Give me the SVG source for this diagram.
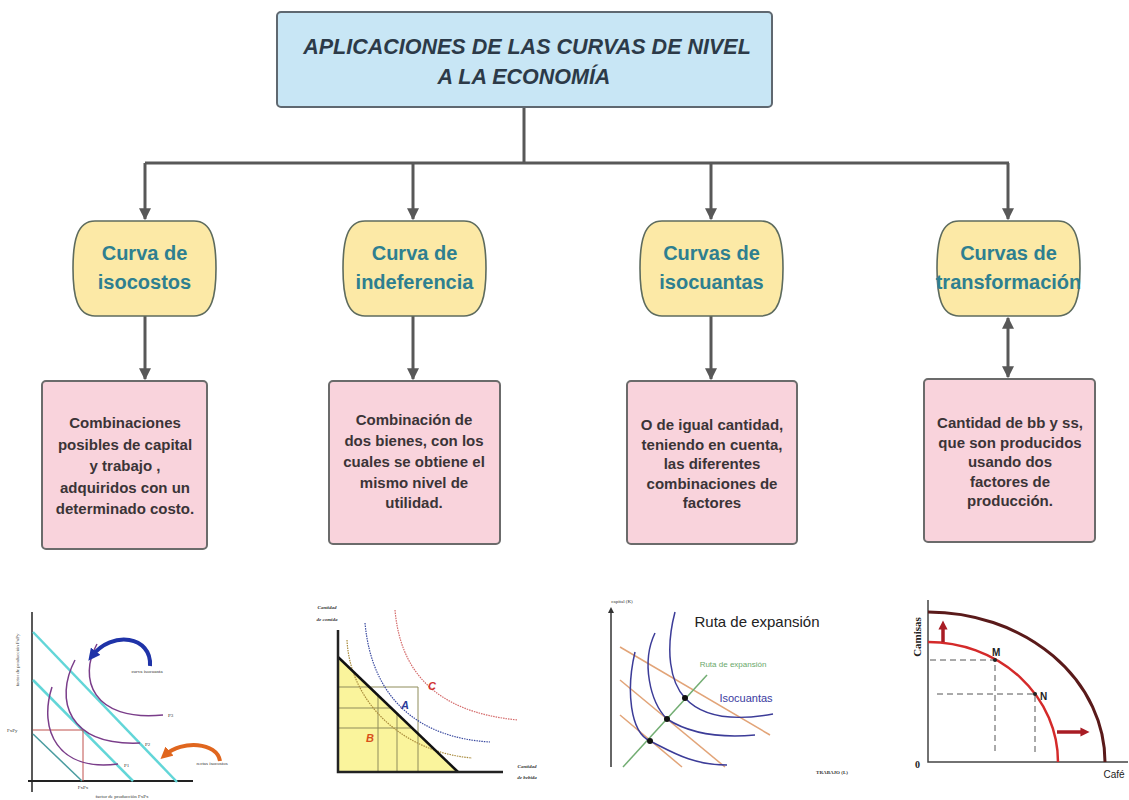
<svg xmlns="http://www.w3.org/2000/svg" width="1129" height="800" viewBox="0 0 1129 800">
<defs>
<style>
.title{font-family:"Liberation Sans",Arial,sans-serif;font-size:21.5px;font-weight:bold;font-style:italic;fill:#2c3a48;text-anchor:middle}
.ntext{font-family:"Liberation Sans",Arial,sans-serif;font-size:20px;font-weight:bold;fill:#2e7f90;text-anchor:middle}
.btext{font-family:"Liberation Sans",Arial,sans-serif;font-size:15px;font-weight:bold;fill:#3b3437;text-anchor:middle}
.conn{stroke:#585858;stroke-width:3;fill:none}
.yel{fill:#fce9a6;stroke:#5d6b5e;stroke-width:1.6}
.pink{fill:#f9d3dc;stroke:#6b6b6b;stroke-width:2}
.tiny{font-family:"Liberation Serif",serif;font-size:5px;fill:#333}
.lbl{font-family:"Liberation Sans",Arial,sans-serif}
</style>
<marker id="ah" viewBox="0 0 10 10" refX="9" refY="5" markerWidth="4" markerHeight="4" orient="auto-start-reverse">
<path d="M0,0 L10,5 L0,10 Z" fill="#585858"/>
</marker>
<marker id="ahb" viewBox="0 0 10 10" refX="5" refY="5" markerWidth="3" markerHeight="3" orient="auto">
<path d="M0,0 L10,5 L0,10 Z" fill="#1f33a8"/>
</marker>
<marker id="aho" viewBox="0 0 10 10" refX="5" refY="5" markerWidth="3" markerHeight="3" orient="auto">
<path d="M0,0 L10,5 L0,10 Z" fill="#e0661e"/>
</marker>
<marker id="ahr" viewBox="0 0 10 10" refX="5" refY="5" markerWidth="2.6" markerHeight="2.6" orient="auto">
<path d="M0,0 L10,5 L0,10 Z" fill="#a81c24"/>
</marker>
<marker id="ahk" viewBox="0 0 10 10" refX="5" refY="5" markerWidth="4" markerHeight="4" orient="auto">
<path d="M0,0 L10,5 L0,10 Z" fill="#333"/>
</marker>
<path id="yshape" d="M22,0 H121 C139,0 143,20 143,47.5 C143,75 139,95 121,95 H22 C4,95 0,75 0,47.5 C0,20 4,0 22,0 Z"/>
</defs>
<rect width="1129" height="800" fill="#ffffff"/>

<g id="connectors">
<path class="conn" d="M524,107 V163 M145,163 H1009"/>
<path class="conn" d="M145,163 V219" marker-end="url(#ah)"/>
<path class="conn" d="M413,163 V219" marker-end="url(#ah)"/>
<path class="conn" d="M711,163 V219" marker-end="url(#ah)"/>
<path class="conn" d="M1008,163 V219" marker-end="url(#ah)"/>
<path class="conn" d="M145,316 V379" marker-end="url(#ah)"/>
<path class="conn" d="M413,316 V379" marker-end="url(#ah)"/>
<path class="conn" d="M711,316 V379" marker-end="url(#ah)"/>
<path class="conn" d="M1008,318 V377" marker-start="url(#ah)" marker-end="url(#ah)"/>
</g>

<g id="title">
<rect x="277" y="12" width="495" height="95" rx="4" fill="#c8e6f5" stroke="#5f6870" stroke-width="2"/>
<text class="title" x="527" y="54">APLICACIONES DE LAS CURVAS DE NIVEL</text>
<text class="title" x="524" y="84">A LA ECONOMÍA</text>
</g>

<g id="n-isocostos" transform="translate(73,221)">
<use href="#yshape" class="yel"/>
<text class="ntext" x="71.5" y="39">Curva de</text>
<text class="ntext" x="71.5" y="68">isocostos</text>
</g>
<g id="n-indiferencia" transform="translate(343,221)">
<use href="#yshape" class="yel"/>
<text class="ntext" x="71.5" y="39">Curva de</text>
<text class="ntext" x="71.5" y="68">indeferencia</text>
</g>
<g id="n-isocuantas" transform="translate(640,221)">
<use href="#yshape" class="yel"/>
<text class="ntext" x="71.5" y="39">Curvas de</text>
<text class="ntext" x="71.5" y="68">isocuantas</text>
</g>
<g id="n-transformacion" transform="translate(937,221)">
<use href="#yshape" class="yel"/>
<text class="ntext" x="71.5" y="39">Curvas de</text>
<text class="ntext" x="71.5" y="68">transformación</text>
</g>

<g id="d-isocostos">
<rect class="pink" x="42" y="381" width="165" height="168" rx="4"/>
<text class="btext" x="125" y="428">Combinaciones</text>
<text class="btext" x="125" y="449.5">posibles de capital</text>
<text class="btext" x="125" y="471">y trabajo ,</text>
<text class="btext" x="125" y="492.5">adquiridos con un</text>
<text class="btext" x="125" y="514">determinado costo.</text>
</g>
<g id="d-indiferencia">
<rect class="pink" x="329" y="381" width="171" height="163" rx="4"/>
<text class="btext" x="414" y="425">Combinación de</text>
<text class="btext" x="414" y="446">dos bienes, con los</text>
<text class="btext" x="414" y="467">cuales se obtiene el</text>
<text class="btext" x="414" y="488">mismo nivel de</text>
<text class="btext" x="414" y="508">utilidad.</text>
</g>
<g id="d-isocuantas">
<rect class="pink" x="627" y="381" width="170" height="163" rx="4"/>
<text class="btext" x="712" y="430">O de igual cantidad,</text>
<text class="btext" x="712" y="449.5">teniendo en cuenta,</text>
<text class="btext" x="712" y="469">las diferentes</text>
<text class="btext" x="712" y="488.5">combinaciones de</text>
<text class="btext" x="712" y="508">factores</text>
</g>
<g id="d-transformacion">
<rect class="pink" x="924" y="379" width="171" height="163" rx="4"/>
<text class="btext" x="1010" y="428">Cantidad de bb y ss,</text>
<text class="btext" x="1010" y="447.5">que son producidos</text>
<text class="btext" x="1010" y="467">usando dos</text>
<text class="btext" x="1010" y="486.5">factores de</text>
<text class="btext" x="1010" y="506">producción.</text>
</g>

<g id="chart-isocostos">
<line x1="32" y1="612" x2="32" y2="792" stroke="#222" stroke-width="1.5"/>
<line x1="28" y1="781" x2="193" y2="781" stroke="#222" stroke-width="2"/>
<line x1="33" y1="632" x2="177" y2="782" stroke="#62d6d8" stroke-width="2.5"/>
<line x1="33" y1="680" x2="133" y2="781" stroke="#62d6d8" stroke-width="2.5"/>
<line x1="33" y1="734" x2="82" y2="781" stroke="#4a9ca0" stroke-width="1.5"/>
<path d="M33,730 H83 V781" fill="none" stroke="#c0504d" stroke-width="1"/>
<path d="M97,644 C78,678 92,722 163,715" fill="none" stroke="#7a3d8a" stroke-width="1.5"/>
<path d="M75,660 C54,700 68,746 140,743" fill="none" stroke="#7a3d8a" stroke-width="1.5"/>
<path d="M52,687 C38,730 58,772 118,764" fill="none" stroke="#7a3d8a" stroke-width="1.5"/>
<path d="M150,666 C152,636 112,630 92,656" fill="none" stroke="#1f33a8" stroke-width="4" marker-end="url(#ahb)"/>
<path d="M220,761 C217,742 182,740 165,755" fill="none" stroke="#e0661e" stroke-width="4" marker-end="url(#aho)"/>
<text class="tiny" x="147" y="673" text-anchor="middle" fill="#2a3aa0">curva isocuanta</text>
<text class="tiny" x="212" y="765" text-anchor="middle" fill="#2a3aa0">rectas isocostos</text>
<text class="tiny" x="168" y="717" font-size="6">P3</text>
<text class="tiny" x="145" y="746" font-size="6">P2</text>
<text class="tiny" x="124" y="767" font-size="6">P1</text>
<text class="tiny" x="7" y="732" font-size="6">FxPy</text>
<text class="tiny" x="83" y="789" font-size="6" text-anchor="middle">FxPx</text>
<text class="tiny" x="122" y="798" text-anchor="middle">factor de producción FxPx</text>
<text class="tiny" transform="translate(19,660) rotate(-90)" text-anchor="middle">factor de producción FxPy</text>
</g>

<g id="chart-indiferencia">
<polygon points="338,657 338,772 458,772" fill="#faf49c"/>
<g stroke="#8f8c5a" stroke-width="1" fill="none">
<path d="M338,687 H418 V772"/>
<path d="M338,708 H390"/>
<path d="M338,728 H411"/>
<path d="M378,772 V696"/>
<path d="M397,772 V714"/>
</g>
<path d="M395,610 C400,668 432,712 518,720" fill="none" stroke="#d46a6a" stroke-width="1.2" stroke-dasharray="1.5,1"/>
<path d="M365,623 C372,700 420,738 490,742" fill="none" stroke="#3a4aa0" stroke-width="1.2" stroke-dasharray="1.5,1"/>
<path d="M347,640 C350,702 402,752 472,758" fill="none" stroke="#a88a3a" stroke-width="1.2" stroke-dasharray="1.5,1"/>
<line x1="338" y1="657" x2="458" y2="772" stroke="#111" stroke-width="2.5"/>
<path d="M338,630 V772 H503" fill="none" stroke="#222" stroke-width="2.5"/>
<text class="lbl" x="428" y="690" font-size="11" font-weight="bold" font-style="italic" fill="#d03030">C</text>
<text class="lbl" x="401" y="709" font-size="11" font-weight="bold" font-style="italic" fill="#2b3a9a">A</text>
<text class="lbl" x="366" y="742" font-size="11" font-weight="bold" font-style="italic" fill="#d8501a">B</text>
<text class="tiny" x="327" y="609" font-size="6" font-style="italic" font-weight="bold" text-anchor="middle">Cantidad</text>
<text class="tiny" x="327" y="621" font-size="6" font-style="italic" font-weight="bold" text-anchor="middle">de comida</text>
<text class="tiny" x="527" y="768" font-size="6" font-style="italic" font-weight="bold" text-anchor="middle">Cantidad</text>
<text class="tiny" x="527" y="779" font-size="6" font-style="italic" font-weight="bold" text-anchor="middle">de bebida</text>
</g>

<g id="chart-isocuantas">
<line x1="611" y1="767" x2="611" y2="610" stroke="#333" stroke-width="1.5" marker-end="url(#ahk)"/>
<text class="tiny" x="622" y="603" font-size="4" text-anchor="middle">capital (K)</text>
<text class="lbl" x="757" y="627" font-size="15" fill="#222" text-anchor="middle">Ruta de expansión</text>
<g stroke="#e2a478" stroke-width="1.5">
<line x1="620" y1="647" x2="770" y2="735"/>
<line x1="620" y1="680" x2="725" y2="767"/>
<line x1="620" y1="715" x2="682" y2="767"/>
</g>
<line x1="623" y1="767" x2="707" y2="675" stroke="#72ad72" stroke-width="1.5"/>
<text class="lbl" x="733" y="667" font-size="8" fill="#6aa86a" text-anchor="middle">Ruta de expansión</text>
<g stroke="#3c3c98" stroke-width="1.5" fill="none">
<path d="M635,652 C626,690 630,732 650,741 C672,752 692,765 727,765"/>
<path d="M655,633 C641,662 650,702 667,719 C690,734 720,738 755,735"/>
<path d="M675,612 C665,650 670,682 685,698 C705,720 740,720 773,714"/>
</g>
<circle cx="650" cy="741" r="3" fill="#111"/>
<circle cx="667" cy="719" r="3" fill="#111"/>
<circle cx="685" cy="698" r="3" fill="#111"/>
<text class="lbl" x="746" y="702" font-size="11" fill="#3a3aa0" text-anchor="middle">Isocuantas</text>
<text class="tiny" x="832" y="774" font-size="5" font-weight="bold" text-anchor="middle">TRABAJO (L)</text>
</g>

<g id="chart-transformacion">
<path d="M928,600 V762 H1128" fill="none" stroke="#444" stroke-width="1.5"/>
<path d="M928,612 A177,150 0 0 1 1105,762" fill="none" stroke="#5a1a1a" stroke-width="3"/>
<path d="M928,642 A130,120 0 0 1 1058,762" fill="none" stroke="#d42a2a" stroke-width="2.5"/>
<line x1="943" y1="642" x2="943" y2="625" stroke="#a81c24" stroke-width="3.5" marker-end="url(#ahr)"/>
<line x1="1057" y1="732" x2="1085" y2="732" stroke="#a81c24" stroke-width="3.5" marker-end="url(#ahr)"/>
<g stroke="#555" stroke-width="1" stroke-dasharray="6,4" fill="none">
<path d="M930,660 H995 V755"/>
<path d="M937,694 H1035 V755"/>
</g>
<circle cx="995" cy="660" r="2" fill="#222"/>
<circle cx="1035" cy="694" r="2" fill="#222"/>
<text class="lbl" x="992" y="656" font-size="10" font-weight="bold" fill="#222">M</text>
<text class="lbl" x="1040" y="700" font-size="10" font-weight="bold" fill="#222">N</text>
<text font-family="Liberation Serif,serif" font-size="11" font-weight="bold" fill="#222" text-anchor="middle" transform="translate(921,637) rotate(-90)">Camisas</text>
<text font-family="Liberation Serif,serif" font-size="10" font-weight="bold" fill="#222" x="915" y="768">0</text>
<text class="lbl" x="1114" y="778" font-size="10" fill="#222" text-anchor="middle">Café</text>
</g>
</svg>
